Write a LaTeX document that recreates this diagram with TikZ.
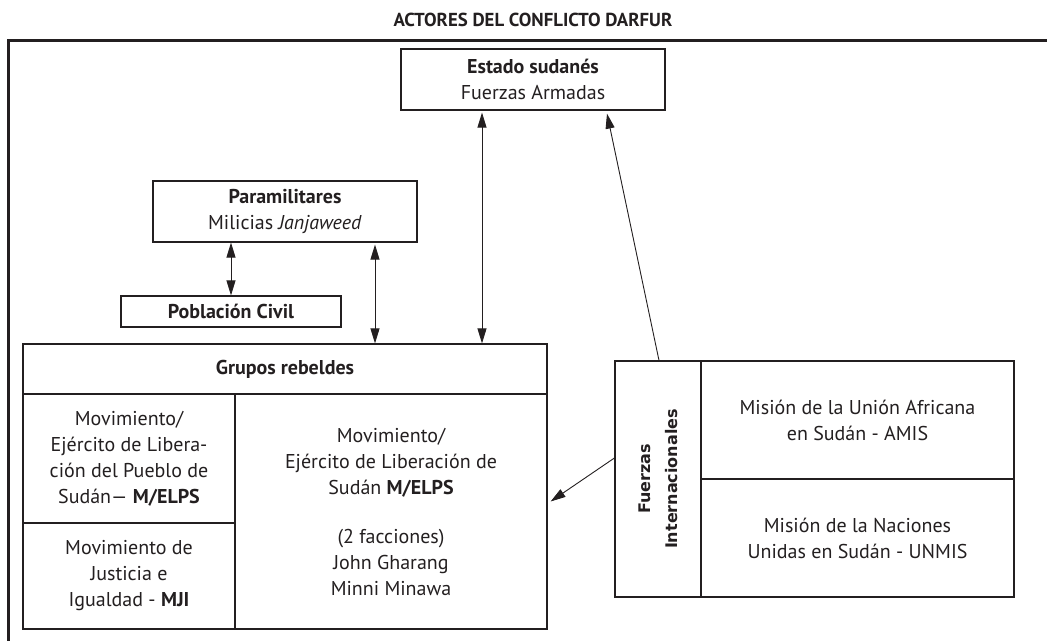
\documentclass[tikz,border=0pt]{standalone}
\usepackage{fontspec}
\setmainfont{PT Sans}
\newfontfamily\vertfont{DejaVu Sans}
\usetikzlibrary{arrows.meta}
\definecolor{tinta}{HTML}{231F20}
\begin{document}
\begin{tikzpicture}[x=1pt,y=-1pt,
	caja/.style={draw=tinta,line width=1.2pt,align=center,inner sep=0pt,text=tinta,font=\fontsize{20}{26}\selectfont},
	flecha/.style={line width=0.9pt,draw=tinta,-{Triangle[length=15pt,width=9pt]}},
	doble/.style={flecha,{Triangle[length=15pt,width=9pt]}-{Triangle[length=15pt,width=9pt]}}]
	\useasboundingbox (0,0) rectangle (1047,641);
	\node[text=tinta,font=\fontsize{18.8}{26}\selectfont\bfseries] (titulo) at (533,20) {ACTORES DEL CONFLICTO DARFUR};
	\draw[line width=3pt,draw=tinta] (1047,40) -- (8.5,40) -- (8.5,641);
	
	\node[caja,minimum width=264,minimum height=61] (Est) at (533,79.5) {\textbf{Estado sudanés}\\Fuerzas Armadas};
	\node[caja,minimum width=264,minimum height=61] (Par) at (285,211.5) {\textbf{Paramilitares}\\Milicias \textit{Janjaweed}};
	\node[caja,minimum width=220,minimum height=31] (Pob) at (231,311.5) {\textbf{Población Civil}};
	
	\node[caja,minimum width=524,minimum height=50] (Gru) at (285,369) {\textbf{Grupos rebeldes}};
	\node[caja,minimum width=212,minimum height=129] (MPS) at (129,458.5) {Movimiento/\\Ejército de Libera-\\ción del Pueblo de\\Sudán--- \textbf{M/ELPS}};
	\node[caja,minimum width=212,minimum height=106] (MJI) at (129,576) {Movimiento de\\Justicia e\\Igualdad - \textbf{MJI}};
	\node[caja,minimum width=312,minimum height=235] (MLS) at (391,511.5) {Movimiento/\\Ejército de Liberación de\\Sudán \textbf{M/ELPS}\\[23pt](2 facciones)\\John Gharang\\Minni Minawa};
	
	\node[caja,rotate=90,minimum width=236,minimum height=86,font=\fontsize{16}{27}\selectfont\vertfont\bfseries] (Fz) at (658,479) {Fuerzas\\Internacionales};
	\node[caja,minimum width=313,minimum height=118] (AMIS) at (857.5,420) {Misión de la Unión Africana\\en Sudán - AMIS};
	\node[caja,minimum width=313,minimum height=118] (UNMIS) at (857.5,538) {Misión de la Naciones\\Unidas en Sudán - UNMIS};
	
	\draw[doble] (Pob.north |- Par.south) -- (Pob.north);
	\draw[doble] ([xshift=90,yshift=-2]Par.south) -- ([xshift=90]Par.south |- Gru.north);
	\draw[doble] ([xshift=-51,yshift=-2]Est.south) -- ([xshift=-51]Est.south |- Gru.north);
	\draw[flecha] ([xshift=1]Fz.east) -- ([xshift=74,yshift=-3]Est.south);
	\draw[flecha] ([yshift=21]Fz.north) -- ([xshift=3,yshift=10]MLS.east);
\end{tikzpicture}
\end{document}
